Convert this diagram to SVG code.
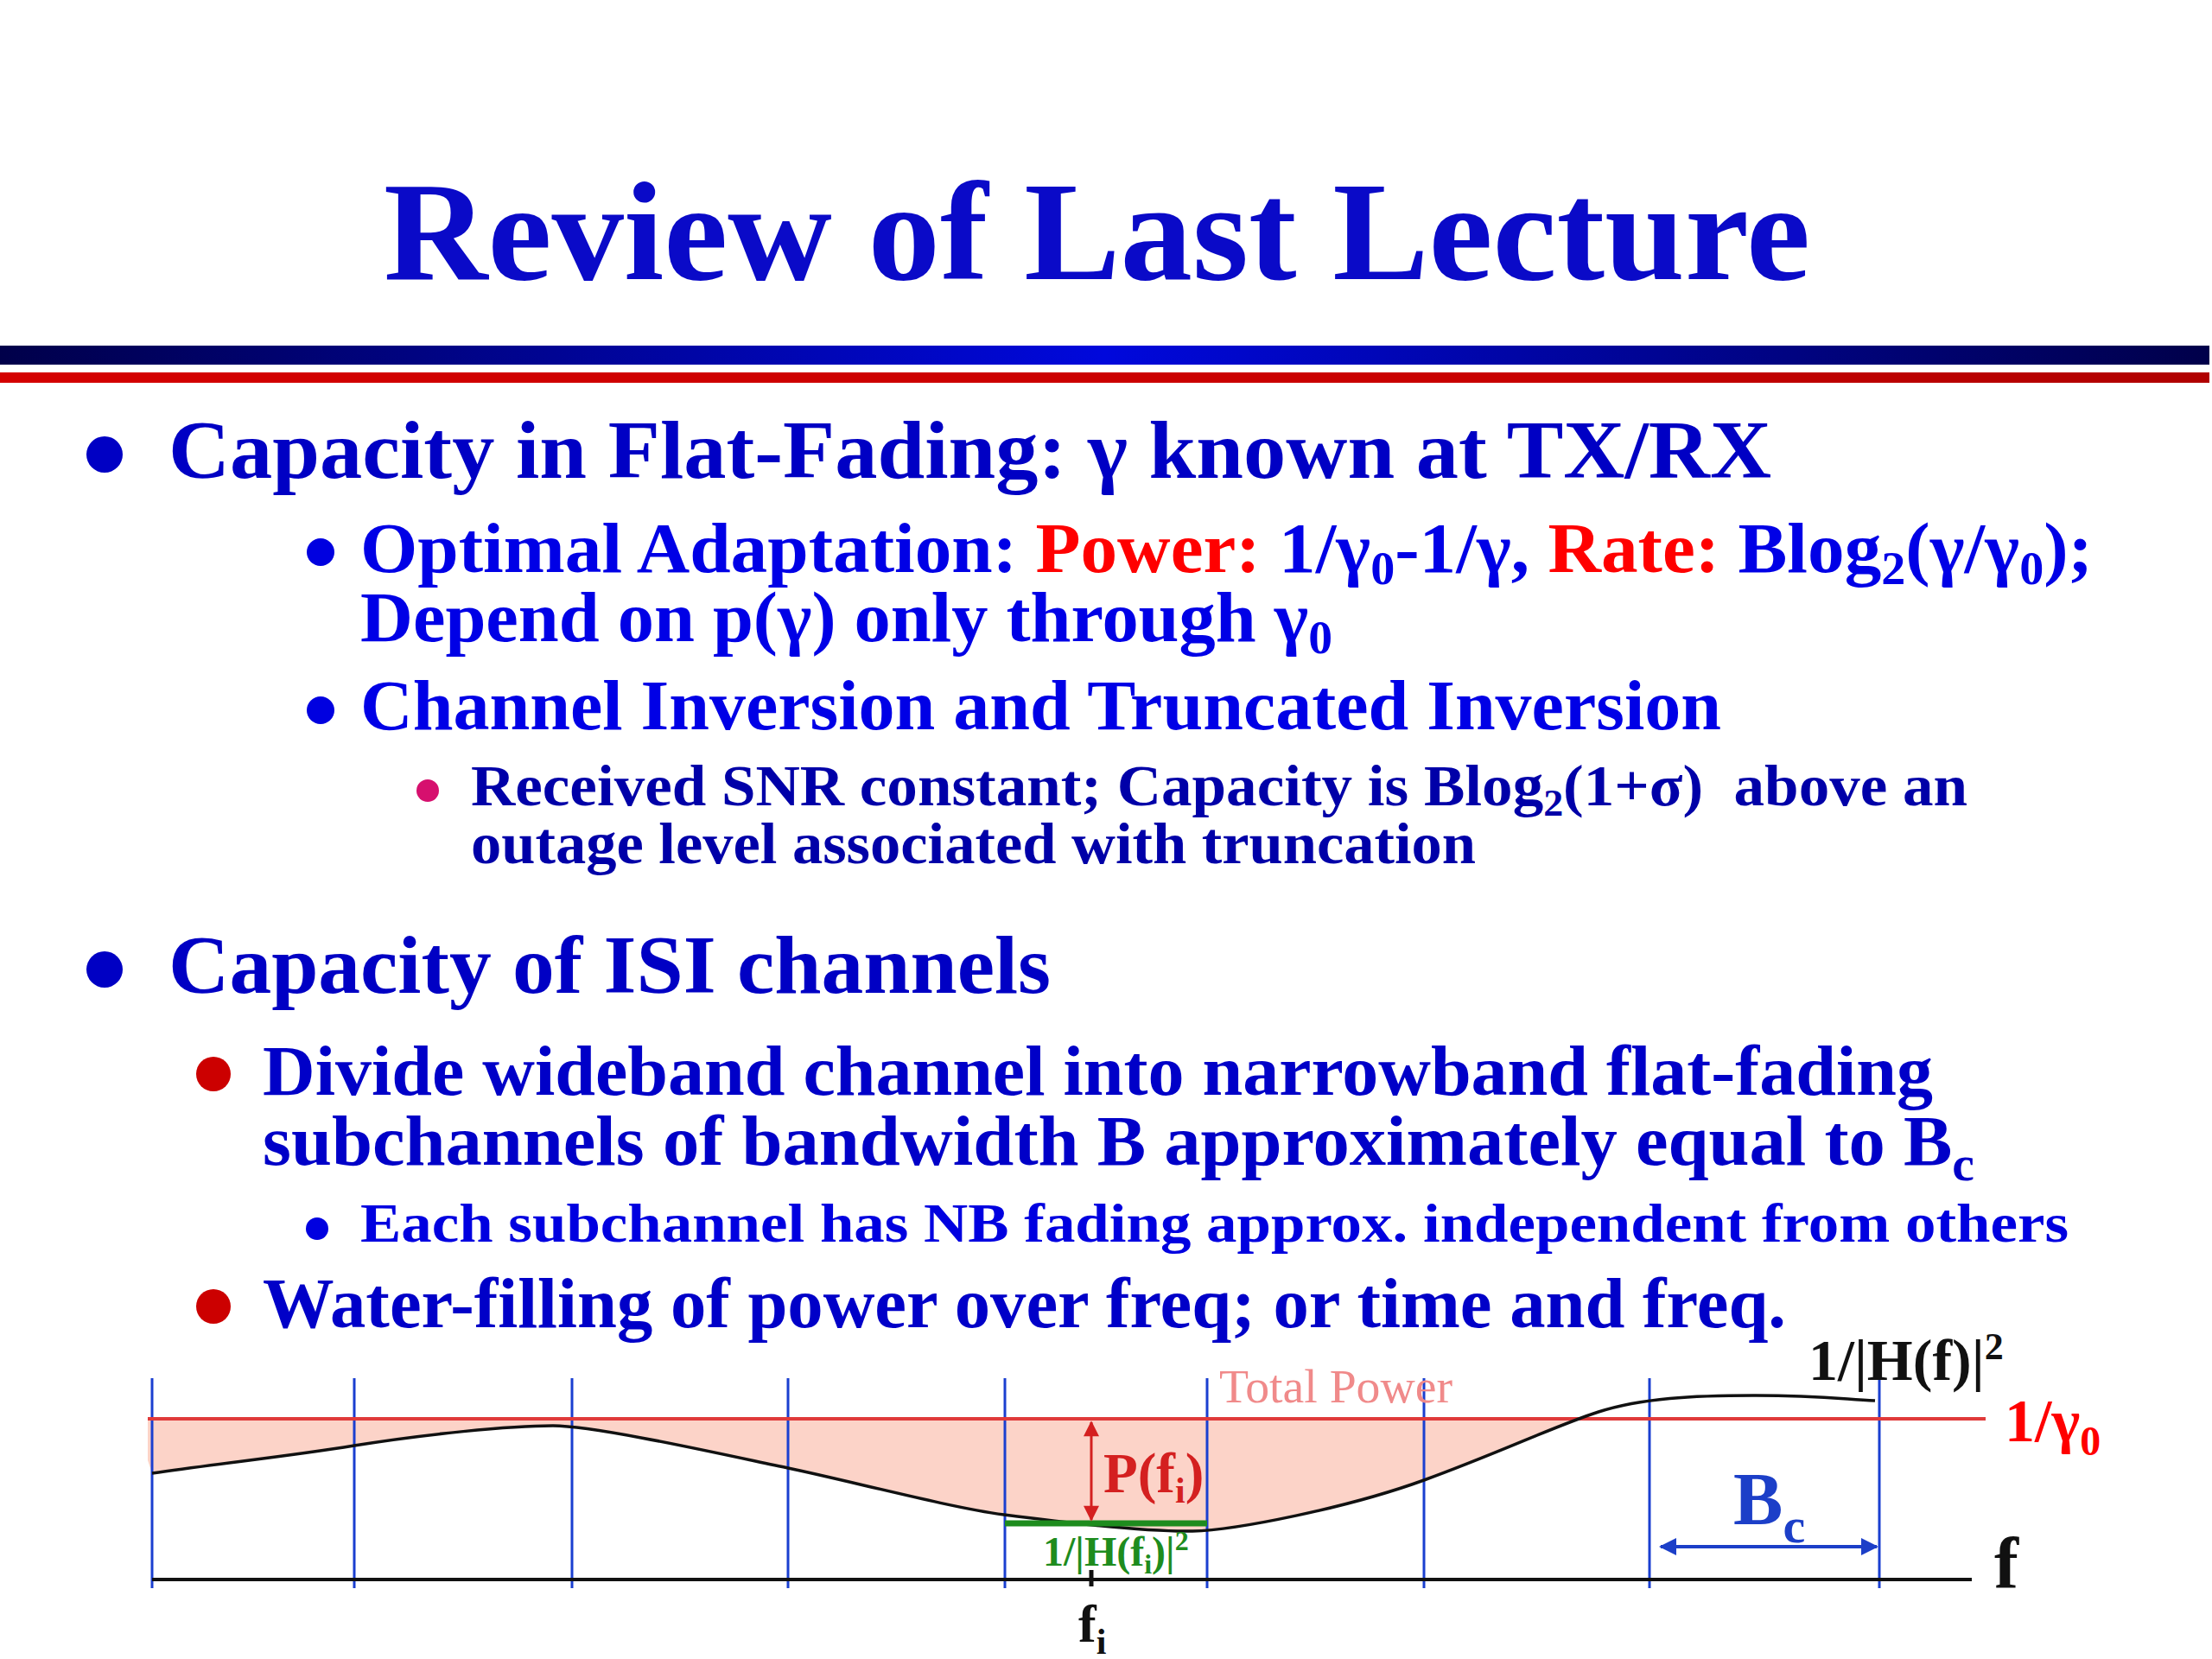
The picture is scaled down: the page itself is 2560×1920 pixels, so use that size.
<svg xmlns="http://www.w3.org/2000/svg" width="2560" height="1920" viewBox="0 0 2560 1920">
<defs>
<style>
.t{font-family:"Liberation Serif","Times New Roman",serif;font-weight:bold;white-space:pre}
.r{font-family:"Liberation Serif","Times New Roman",serif;font-weight:normal;white-space:pre}
.red{fill:#ff0000}
.vl{stroke:#1a3fd0;stroke-width:3}
</style>
<linearGradient id="gBlue" x1="0" y1="0" x2="1" y2="0">
<stop offset="0" stop-color="#00004a"/>
<stop offset="0.5" stop-color="#0008dc"/>
<stop offset="1" stop-color="#00004a"/>
</linearGradient>
<linearGradient id="gRed" x1="0" y1="0" x2="1" y2="0">
<stop offset="0" stop-color="#d40000"/>
<stop offset="0.7" stop-color="#c80000"/>
<stop offset="1" stop-color="#b00000"/>
</linearGradient>
<marker id="arRed" viewBox="0 0 10 10" refX="9" refY="5" markerWidth="24" markerHeight="18" markerUnits="userSpaceOnUse" orient="auto-start-reverse">
<path d="M0,0 L10,5 L0,10 z" fill="#d42020"/>
</marker>
<marker id="arBlue" viewBox="0 0 10 10" refX="9" refY="5" markerWidth="24" markerHeight="20" markerUnits="userSpaceOnUse" orient="auto-start-reverse">
<path d="M0,0 L10,5 L0,10 z" fill="#1c3fc8"/>
</marker>
<clipPath id="belowLine"><rect x="0" y="1644" width="2560" height="300"/></clipPath>
</defs>
<rect width="2560" height="1920" fill="#ffffff"/>

<g id="title">
<text class="t" x="444" y="323" font-size="164" fill="#0a0ac8" textLength="1651" lengthAdjust="spacingAndGlyphs">Review of Last Lecture</text>
<rect x="0" y="400" width="2557" height="22" fill="url(#gBlue)"/>
<rect x="0" y="431" width="2557" height="12" fill="url(#gRed)"/>
</g>

<g id="bullet1">
<circle cx="121" cy="526" r="21" fill="#0000c4"/>
<text class="t" x="195" y="553" font-size="95" fill="#0000c4" textLength="1855" lengthAdjust="spacingAndGlyphs">Capacity in Flat-Fading: γ known at TX/RX</text>
</g>

<g id="bullet1a">
<circle cx="371" cy="639" r="16" fill="#0000e0"/>
<text class="t" x="417" y="662" font-size="82" fill="#0000e6" textLength="2005" lengthAdjust="spacingAndGlyphs">Optimal Adaptation: <tspan class="red">Power:</tspan> 1/γ<tspan dy="14" font-size="54">0</tspan><tspan dy="-14">-1/γ, </tspan><tspan class="red">Rate:</tspan> Blog<tspan dy="14" font-size="54">2</tspan><tspan dy="-14">(γ/γ</tspan><tspan dy="14" font-size="54">0</tspan><tspan dy="-14">);</tspan></text>
<text class="t" x="417" y="742" font-size="82" fill="#0000e6" textLength="1125" lengthAdjust="spacingAndGlyphs">Depend on p(γ) only through γ<tspan dy="14" font-size="54">0</tspan></text>
</g>

<g id="bullet1b">
<circle cx="371" cy="822" r="16" fill="#0000e0"/>
<text class="t" x="417" y="844" font-size="82" fill="#0000e6" textLength="1575" lengthAdjust="spacingAndGlyphs">Channel Inversion and Truncated Inversion</text>
</g>

<g id="bullet1b1">
<circle cx="495" cy="915" r="13" fill="#d6106e"/>
<text class="t" x="545" y="932" font-size="68" fill="#0000a8" textLength="1732" lengthAdjust="spacingAndGlyphs">Received SNR constant; Capacity is Blog<tspan dy="12" font-size="44">2</tspan><tspan dy="-12">(1+σ)  above an</tspan></text>
<text class="t" x="545" y="999" font-size="68" fill="#0000a8" textLength="1163" lengthAdjust="spacingAndGlyphs">outage level associated with truncation</text>
</g>

<g id="bullet2">
<circle cx="121" cy="1122" r="21" fill="#0000c4"/>
<text class="t" x="195" y="1149" font-size="95" fill="#0000c4" textLength="1021" lengthAdjust="spacingAndGlyphs">Capacity of ISI channels</text>
</g>

<g id="bullet2a">
<circle cx="247" cy="1243" r="20" fill="#cc0000"/>
<text class="t" x="304" y="1267" font-size="82" fill="#0000c8" textLength="1933" lengthAdjust="spacingAndGlyphs">Divide wideband channel into narrowband flat-fading</text>
<text class="t" x="304" y="1348" font-size="82" fill="#0000c8" textLength="1981" lengthAdjust="spacingAndGlyphs">subchannels of bandwidth B approximately equal to B<tspan dy="18" font-size="56">c</tspan></text>
</g>

<g id="bullet2a1">
<circle cx="367" cy="1422" r="13" fill="#0000e0"/>
<text class="t" x="417" y="1437" font-size="63" fill="#0000e0" textLength="1977" lengthAdjust="spacingAndGlyphs">Each subchannel has NB fading approx. independent from others</text>
</g>

<g id="bullet2b">
<circle cx="247" cy="1512" r="20" fill="#cc0000"/>
<text class="t" x="304" y="1536" font-size="82" fill="#0000c8" textLength="1763" lengthAdjust="spacingAndGlyphs">Water-filling of power over freq; or time and freq.</text>
</g>

<g id="diagram">
<g id="waterfill">
<path clip-path="url(#belowLine)" fill="#fcd3c8" d="M176,1705 C258,1693 330,1686 410,1673 S590,1650 640,1650 S840,1684 912,1699 S1100,1745 1162,1753 S1330,1773 1380,1772 S1560,1745 1648,1713 S1800,1650 1850,1634 S1960,1615 2029,1615 S2120,1618 2170,1621 L2170,1644 L171,1644 L171,1690 Z"/>
</g>
<g id="gridlines">
<line class="vl" x1="176" y1="1595" x2="176" y2="1838"/>
<line class="vl" x1="410" y1="1595" x2="410" y2="1838"/>
<line class="vl" x1="662" y1="1595" x2="662" y2="1838"/>
<line class="vl" x1="912" y1="1595" x2="912" y2="1838"/>
<line class="vl" x1="1163" y1="1595" x2="1163" y2="1838"/>
<line class="vl" x1="1397" y1="1595" x2="1397" y2="1838"/>
<line class="vl" x1="1648" y1="1595" x2="1648" y2="1838"/>
<line class="vl" x1="1909" y1="1595" x2="1909" y2="1838"/>
<line class="vl" x1="2175" y1="1595" x2="2175" y2="1838"/>
</g>
<g id="connectors">
<line id="waterlevel" x1="171" y1="1642" x2="2298" y2="1642" stroke="#e03a3a" stroke-width="4"/>
<line id="axis" x1="176" y1="1828" x2="2282" y2="1828" stroke="#111111" stroke-width="4"/>
<path id="channel" fill="none" stroke="#111111" stroke-width="3.5" d="M176,1705 C258,1693 330,1686 410,1673 S590,1650 640,1650 S840,1684 912,1699 S1100,1745 1162,1753 S1330,1773 1380,1772 S1560,1745 1648,1713 S1800,1650 1850,1634 S1960,1615 2029,1615 S2120,1618 2170,1621"/>
<line id="greenlevel" x1="1163" y1="1763" x2="1397" y2="1763" stroke="#1e8c1e" stroke-width="7"/>
<line id="powerarrow" x1="1263" y1="1646" x2="1263" y2="1759" stroke="#d42020" stroke-width="3" marker-start="url(#arRed)" marker-end="url(#arRed)"/>
<line id="bcarrow" x1="1922" y1="1790" x2="2172" y2="1790" stroke="#1c3fc8" stroke-width="4" marker-start="url(#arBlue)" marker-end="url(#arBlue)"/>
<line id="fitick" x1="1263" y1="1817" x2="1263" y2="1836" stroke="#111111" stroke-width="5"/>
</g>
<g id="labels">
<text class="r" x="1411" y="1623" font-size="54" fill="#f08a8a" textLength="270" lengthAdjust="spacingAndGlyphs">Total Power</text>
<text class="t" x="2093" y="1597" font-size="68" fill="#111111">1/|H(f)|<tspan dy="-24" font-size="44">2</tspan></text>
<text class="t" x="2320" y="1668" font-size="70" fill="#ff0000">1/γ<tspan dy="16" font-size="48">0</tspan></text>
<text class="t" x="1277" y="1727" font-size="65" fill="#d42020">P(f<tspan dy="12" font-size="42">i</tspan><tspan dy="-12">)</tspan></text>
<text class="t" x="1207" y="1812" font-size="48" fill="#1e8c1e">1/|H(f<tspan dy="9" font-size="32">i</tspan><tspan dy="-9">)|</tspan><tspan dy="-18" font-size="32">2</tspan></text>
<text class="t" x="1248" y="1900" font-size="62" fill="#111111">f<tspan dy="14" font-size="42">i</tspan></text>
<text class="t" x="2006" y="1764" font-size="86" fill="#1c3fc8">B<tspan dy="21" font-size="58">c</tspan></text>
<text class="t" x="2308" y="1838" font-size="84" fill="#111111">f</text>
</g>
</g>
</svg>
